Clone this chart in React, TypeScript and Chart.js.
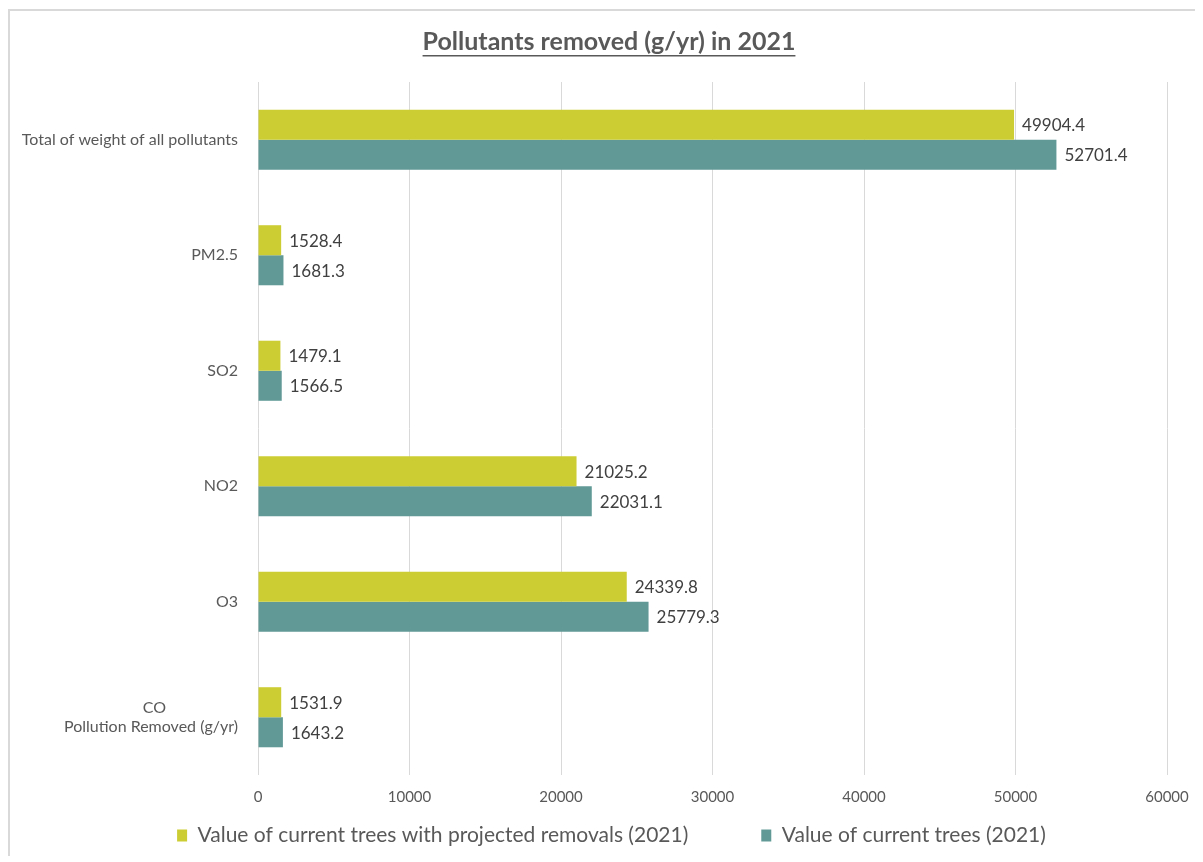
import React, { useEffect, useRef } from "react";
import { Chart, registerables } from "chart.js";

Chart.register(...registerables);

const categories: (string | string[])[] = [
  "Total of weight of all pollutants",
  "PM2.5",
  "SO2",
  "NO2",
  "O3",
  ["CO", "Pollution Removed (g/yr)"],
];
const projectedRemovals = [49904.4, 1528.4, 1479.1, 21025.2, 24339.8, 1531.9];
const currentTrees = [52701.4, 1681.3, 1566.5, 22031.1, 25779.3, 1643.2];
const seriesNames = [
  "Value of current trees with projected removals (2021)",
  "Value of current trees (2021)",
];
const titleText = "Pollutants removed (g/yr) in 2021";
const xMin = 0;
const xMax = 60000;
const xStep = 10000;

const FONT = "Lato, 'Open Sans', sans-serif";
const W = 1195;
const H = 848;
const Y_FONT_SIZE = 16;

const measureCtx = (() => {
  const c = document.createElement("canvas");
  return c.getContext("2d") as CanvasRenderingContext2D;
})();

function centerLines(label: any) {
  if (!Array.isArray(label)) return label;
  measureCtx.font = `${Y_FONT_SIZE}px ${FONT}`;
  const widths = label.map((l: string) => measureCtx.measureText(l).width);
  const maxW = Math.max(...widths);
  const enW = measureCtx.measureText("\u2002").width || Y_FONT_SIZE / 2;
  return label.map((l: string, i: number) => {
    const n = Math.round((maxW - widths[i]) / 2 / enW);
    return l + "\u2002".repeat(Math.max(0, n));
  });
}

const framePlugin = {
  id: "frame",
  beforeDraw(chart: any) {
    const { ctx } = chart;
    ctx.save();
    ctx.fillStyle = "#ffffff";
    ctx.fillRect(0, 0, chart.width, chart.height);
    ctx.fillStyle = "#d9d9d9";
    ctx.fillRect(0, 1, chart.width, 2);
    ctx.fillRect(0, 1, 2, chart.height);
    ctx.restore();
  },
  afterLayout(chart: any) {
    const lg = chart.legend;
    if (lg) {
      lg.left += 24;
      lg.right += 24;
    }
  },
};

const titlePlugin = {
  id: "ulTitle",
  afterDraw(chart: any) {
    const { ctx } = chart;
    ctx.save();
    ctx.font = `bold 25px ${FONT}`;
    ctx.fillStyle = "#595959";
    ctx.textAlign = "center";
    ctx.textBaseline = "middle";
    const cx = 601;
    const cy = 34;
    ctx.fillText(titleText, cx, cy);
    const w = ctx.measureText(titleText).width;
    ctx.fillRect(cx - w / 2, cy + 13, w, 1.5);
    ctx.restore();
  },
};

const valueLabelPlugin = {
  id: "valueLabels",
  afterDatasetsDraw(chart: any) {
    const { ctx } = chart;
    ctx.save();
    ctx.font = `17px ${FONT}`;
    ctx.fillStyle = "#404040";
    ctx.textAlign = "left";
    ctx.textBaseline = "middle";
    chart.data.datasets.forEach((ds: any, di: number) => {
      const meta = chart.getDatasetMeta(di);
      meta.data.forEach((el: any, i: number) => {
        ctx.fillText(Number(ds.data[i]).toFixed(1), el.x + 8, el.y + 1);
      });
    });
    ctx.restore();
  },
};

export default function App() {
  const ref = useRef<HTMLCanvasElement>(null);
  useEffect(() => {
    if (!ref.current) return;
    const chart = new Chart(ref.current, {
      type: "bar",
      data: {
        labels: categories as any,
        datasets: [
          {
            label: seriesNames[0],
            data: projectedRemovals,
            backgroundColor: "#cccc33",
            categoryPercentage: 0.52,
            barPercentage: 1.0,
          },
          {
            label: seriesNames[1],
            data: currentTrees,
            backgroundColor: "#609996",
            categoryPercentage: 0.52,
            barPercentage: 1.0,
          },
        ],
      },
      options: {
        indexAxis: "y",
        responsive: false,
        animation: false,
        devicePixelRatio: 1,
        layout: { padding: { top: 74, right: 36, left: 0, bottom: 0 } },
        scales: {
          x: {
            min: xMin,
            max: xMax,
            ticks: {
              stepSize: xStep,
              color: "#595959",
              font: { family: FONT, size: 15 },
              padding: 13,
              maxRotation: 0,
              callback: (v: any) => String(v),
            },
            grid: { color: "#d9d9d9", drawTicks: false, lineWidth: 1 },
            border: { display: false },
            afterFit(scale: any) {
              scale.height = 40;
            },
          },
          y: {
            ticks: {
              color: "#595959",
              font: { family: FONT, size: Y_FONT_SIZE },
              padding: 20,
              callback(this: any, v: any) {
                return centerLines(this.getLabelForValue(v) && categories[v]);
              },
            },
            grid: { display: false, drawTicks: false },
            border: { display: false },
            afterFit(scale: any) {
              scale.width = 250;
            },
          },
        },
        plugins: {
          title: { display: false },
          tooltip: { enabled: false },
          legend: {
            position: "bottom",
            labels: {
              boxWidth: 10,
              boxHeight: 12,
              padding: 10,
              color: "#595959",
              font: { family: FONT, size: 21 },
              generateLabels(chart: any) {
                const items = Chart.defaults.plugins.legend.labels.generateLabels(chart);
                return items.map((it: any, i: number) =>
                  i < items.length - 1
                    ? { ...it, text: it.text + "\u2002\u2002\u2002\u2002\u2002\u2002" }
                    : it
                );
              },
            },
          },
        },
      },
      plugins: [framePlugin, titlePlugin, valueLabelPlugin],
    } as any);
    return () => chart.destroy();
  }, []);
  return (
    <canvas
      ref={ref}
      width={W}
      height={H}
      style={{ display: "block", width: W, height: H }}
    />
  );
}
